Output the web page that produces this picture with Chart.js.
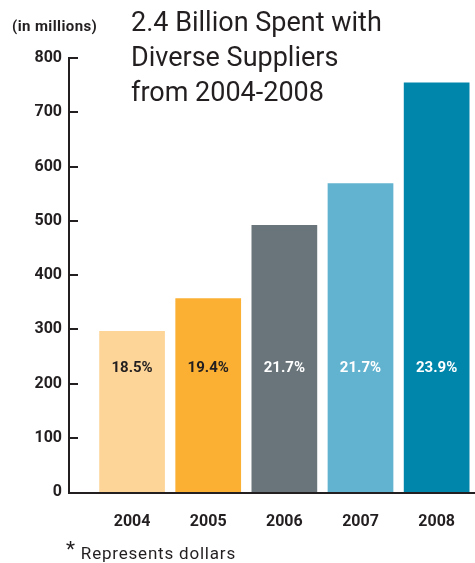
<!DOCTYPE html>
<html>
<head>
<meta charset="utf-8">
<script src="https://cdn.jsdelivr.net/npm/chart.js@4"></script>
<style>
  html, body { margin: 0; padding: 0; background: #fff; }
  #wrap { position: relative; width: 475px; height: 563px; }
  .txt { position: absolute; color: #231f20; font-family: Roboto, "Open Sans", sans-serif; white-space: nowrap; }
  #title { left: 131px; top: 5px; font-size: 27px; line-height: 35px; }
  #units { left: 12px; top: 17px; font-size: 15px; font-weight: bold; letter-spacing: 0.4px; }
  #note { left: 66px; top: 540px; font-size: 17px; letter-spacing: 0.8px; }
  #note .star { font-size: 21px; position: relative; top: -3px; margin-right: 5px; }
</style>
</head>
<body>
<div id="wrap">
  <canvas id="chart" width="475" height="563"></canvas>
  <div class="txt" id="units">(in millions)</div>
  <div class="txt" id="title">2.4 Billion Spent with<br>Diverse Suppliers<br>from 2004-2008</div>
  <div class="txt" id="note"><span class="star">*</span>Represents dollars</div>
</div>
<script>
// chart data
const years = ['2004', '2005', '2006', '2007', '2008'];
const spend = [297, 357, 492, 569, 755];
const shares = ['18.5%', '19.4%', '21.7%', '21.7%', '23.9%'];
const barColors = ['#fdd599', '#fbb034', '#6a757b', '#62b3cf', '#0086ab'];
const labelColors = ['#231f20', '#231f20', '#ffffff', '#ffffff', '#ffffff'];
const yTicks = [0, 100, 200, 300, 400, 500, 600, 700, 800];

const ink = '#231f20';

// draws the detached y axis line, its inward ticks and the baseline
const axisLines = {
  id: 'axisLines',
  afterDraw(chart) {
    const ctx = chart.ctx;
    const area = chart.chartArea;
    const y = chart.scales.y;
    const x0 = area.left - 25;
    ctx.save();
    ctx.strokeStyle = ink;
    ctx.lineWidth = 2;
    ctx.beginPath();
    ctx.moveTo(x0, y.getPixelForValue(800) - 1);
    ctx.lineTo(x0, area.bottom + 1);
    ctx.lineTo(chart.width, area.bottom + 1);
    yTicks.forEach(v => {
      if (v === 0) return;
      const py = Math.round(y.getPixelForValue(v));
      ctx.moveTo(x0, py);
      ctx.lineTo(x0 + 9, py);
    });
    ctx.stroke();
    ctx.restore();
  }
};

// percent labels inside the bars
const barLabels = {
  id: 'barLabels',
  afterDatasetsDraw(chart) {
    const ctx = chart.ctx;
    const meta = chart.getDatasetMeta(0);
    const ly = chart.chartArea.bottom - 124;
    ctx.save();
    ctx.font = 'bold 15px Roboto, sans-serif';
    ctx.textAlign = 'center';
    ctx.textBaseline = 'middle';
    meta.data.forEach((bar, i) => {
      ctx.fillStyle = labelColors[i];
      ctx.fillText(shares[i], bar.x, ly);
    });
    ctx.restore();
  }
};

new Chart(document.getElementById('chart'), {
  type: 'bar',
  data: {
    labels: years,
    datasets: [{
      data: spend,
      backgroundColor: barColors,
      borderWidth: 0,
      barPercentage: 0.863,
      categoryPercentage: 1
    }]
  },
  options: {
    responsive: false,
    animation: false,
    layout: { padding: { top: 58, right: 0, bottom: 33, left: 0 } },
    plugins: { legend: { display: false }, tooltip: { enabled: false } },
    scales: {
      x: {
        grid: { display: false, drawTicks: false },
        border: { display: false },
        ticks: { color: ink, padding: 20, font: { family: 'Roboto', size: 16, weight: 'bold' } },
        afterFit(s) { s.height = 38; }
      },
      y: {
        min: 0,
        max: 800,
        grid: { display: false, drawTicks: false },
        border: { display: false },
        afterBuildTicks(s) { s.ticks = yTicks.map(v => ({ value: v })); },
        ticks: { color: ink, padding: 32, font: { family: 'Roboto', size: 16, weight: 'bold' } },
        afterFit(s) { s.width = 94; }
      }
    }
  },
  plugins: [axisLines, barLabels]
});
</script>
</body>
</html>
